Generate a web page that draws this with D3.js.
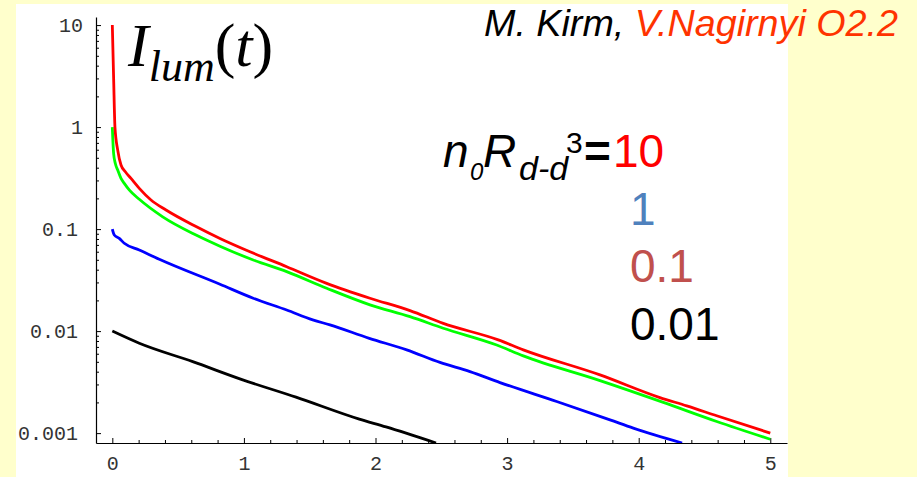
<!DOCTYPE html>
<html>
<head>
<meta charset="utf-8">
<script src="https://cdn.jsdelivr.net/npm/d3@7"></script>
<style>
  html, body { margin: 0; padding: 0; background: #FFFFCC; }
  svg { display: block; }
</style>
</head>
<body>
<svg id="chart" width="917" height="477"></svg>
<script>
// ---- data ----
const yTickValues = [10, 1, 0.1, 0.01, 0.001];
const yTickLabels = ["10", "1", "0.1", "0.01", "0.001"];
const xTickValues = [0, 1, 2, 3, 4, 5];
const xTickLabels = ["0", "1", "2", "3", "4", "5"];

const legendLabels = ["10", "1", "0.1", "0.01"];

// n0 R^3 = 10 (red)
const redT = [0, 0.01, 0.02, 0.041, 0.066, 0.099, 0.142, 0.205, 0.294, 0.408, 0.636, 0.818, 1.046, 1.325, 1.629, 1.958, 2.262, 2.515, 2.933, 3.123, 3.706, 4.161, 4.365, 4.593, 5.0];
const redV = [10, 3.0, 1.0, 0.595, 0.425, 0.365, 0.314, 0.251, 0.193, 0.154, 0.106, 0.081, 0.060, 0.0428, 0.0294, 0.021, 0.0159, 0.0119, 0.0082, 0.00655, 0.00372, 0.00223, 0.00185, 0.00148, 0.001];
// n0 R^3 = 1 (green)
const greenT = [0, 0.004, 0.01, 0.023, 0.041, 0.066, 0.091, 0.13, 0.205, 0.383, 0.636, 0.818, 1.071, 1.325, 1.629, 1.958, 2.262, 2.515, 2.921, 3.123, 3.706, 4.187, 4.593, 5.0];
const greenV = [1.0, 0.75, 0.55, 0.44, 0.379, 0.314, 0.281, 0.241, 0.196, 0.132, 0.0875, 0.068, 0.0498, 0.0383, 0.0263, 0.0181, 0.01387, 0.01067, 0.0073, 0.00571, 0.00327, 0.002, 0.0013, 0.00087];
// n0 R^3 = 0.1 (blue)
const blueT = [0, 0.015, 0.053, 0.091, 0.205, 0.357, 0.818, 1.071, 1.325, 1.523, 1.654, 1.953, 2.237, 2.49, 2.718, 2.946, 3.377, 3.782, 3.959, 4.33];
const blueV = [0.1, 0.0875, 0.081, 0.0726, 0.0624, 0.0506, 0.0288, 0.021, 0.0161, 0.0129, 0.0115, 0.0085, 0.00655, 0.00493, 0.00401, 0.00313, 0.00204, 0.00135, 0.00112, 0.0008];
// n0 R^3 = 0.01 (black)
const blackT = [0, 0.205, 0.611, 0.991, 1.396, 1.877, 2.08, 2.46];
const blackV = [0.01, 0.0076, 0.00502, 0.00333, 0.00225, 0.00137, 0.00115, 0.0008];

// ---- drawing ----
const svg = d3.select("#chart");
const W = 917, H = 477;

svg.append("rect").attr("width", W).attr("height", H).attr("fill", "#FFFFCC");
svg.append("rect").attr("x", 16).attr("y", 4).attr("width", 772).attr("height", 473).attr("fill", "#FFFFFF");

const plot = { left: 96, right: 787, top: 17, bottom: 443 };

const x = d3.scaleLinear().domain([-0.124, 5.127]).range([plot.left, plot.right]);
const y = d3.scaleLog().domain([0.0008, 12]).range([plot.bottom, plot.top]);

svg.append("clipPath").attr("id", "clip")
  .append("rect")
  .attr("x", plot.left).attr("y", plot.top)
  .attr("width", plot.right - plot.left).attr("height", plot.bottom - plot.top);

// minor ticks
const yMinor = [];
[0.001, 0.01, 0.1, 1].forEach(dec => { for (let k = 2; k <= 9; k++) yMinor.push(dec * k); });
const xMinor = [];
for (let i = 0; i <= 25; i++) { if (i % 5 !== 0) xMinor.push(i / 5); }

const tickFont = "'Liberation Mono', 'DejaVu Sans Mono', monospace";

// Y axis
const yAxisMinor = d3.axisLeft(y).tickValues(yMinor).tickSizeInner(-3).tickSizeOuter(0).tickFormat("");
const gyMinor = svg.append("g").attr("transform", `translate(${plot.left},0)`).call(yAxisMinor);
gyMinor.select(".domain").remove();

const yAxis = d3.axisLeft(y).tickValues(yTickValues).tickSizeInner(-5).tickSizeOuter(0)
  .tickPadding(18).tickFormat((d, i) => yTickLabels[i]);
const gy = svg.append("g").attr("transform", `translate(${plot.left},0)`).call(yAxis);
gy.selectAll("text")
  .attr("font-family", tickFont).attr("font-size", 20).attr("fill", "#333")
  .attr("dx", (d, i) => yTickLabels[i].indexOf(".") < 0 ? 5 : 0);

// X axis
const xAxisMinor = d3.axisBottom(x).tickValues(xMinor).tickSizeInner(-3).tickSizeOuter(0).tickFormat("");
const gxMinor = svg.append("g").attr("transform", `translate(0,${plot.bottom})`).call(xAxisMinor);
gxMinor.select(".domain").remove();

const xAxis = d3.axisBottom(x).tickValues(xTickValues).tickSizeInner(-5).tickSizeOuter(0)
  .tickPadding(13).tickFormat((d, i) => xTickLabels[i]);
const gx = svg.append("g").attr("transform", `translate(0,${plot.bottom})`).call(xAxis);
gx.selectAll("text").attr("font-family", tickFont).attr("font-size", 20).attr("fill", "#333");

svg.selectAll(".domain").attr("stroke", "#000").attr("stroke-width", 1.2);
svg.selectAll(".tick line").attr("stroke", "#000").attr("stroke-width", 1);

// curves
const line = d3.line().x(d => x(d[0])).y(d => y(d[1])).curve(d3.curveMonotoneX);
const series = [
  { t: greenT, v: greenV, color: "#00FF00" },
  { t: redT, v: redV, color: "#FF0000" },
  { t: blueT, v: blueV, color: "#0000FF" },
  { t: blackT, v: blackV, color: "#000000" }
];
const gc = svg.append("g").attr("clip-path", "url(#clip)");
series.forEach(s => {
  gc.append("path")
    .datum(s.t.map((t, i) => [t, s.v[i]]))
    .attr("d", line)
    .attr("fill", "none")
    .attr("stroke", s.color)
    .attr("stroke-width", 2.8)
    .attr("stroke-linejoin", "round");
});

// title I_lum(t)
const title = svg.append("text").attr("font-family", "'Liberation Serif', 'Times New Roman', serif")
  .attr("font-size", 62).attr("y", 66).attr("fill", "#000");
title.append("tspan").attr("x", 128).attr("font-style", "italic").text("I");
title.append("tspan").attr("font-style", "italic").attr("font-size", 44).attr("dy", 15).text("lum");
title.append("tspan").attr("dy", -15).text("(");
title.append("tspan").attr("font-style", "italic").text("t");
title.append("tspan").text(")");

// authors
const auth = svg.append("text").attr("font-family", "'Liberation Sans', Arial, sans-serif")
  .attr("font-style", "italic").attr("font-size", 37.7).attr("x", 484).attr("y", 36);
auth.append("tspan").attr("fill", "#000").text("M. Kirm, ");
auth.append("tspan").attr("fill", "#FF3300").text("V.Nagirnyi O2.2");

// legend formula
const sans = "'Liberation Sans', Arial, sans-serif";
const f = svg.append("text").attr("font-family", sans).attr("font-size", 46).attr("y", 167).attr("fill", "#000");
f.append("tspan").attr("x", 443).attr("font-style", "italic").text("n");
f.append("tspan").attr("x", 470).attr("y", 180).attr("font-style", "italic").attr("font-size", 24).text("0");
f.append("tspan").attr("x", 483).attr("y", 167).attr("font-style", "italic").text("R");
f.append("tspan").attr("x", 519).attr("y", 180).attr("font-style", "italic").attr("font-size", 34).text("d-d");
f.append("tspan").attr("x", 566).attr("y", 153).attr("font-size", 30).text("3");
f.append("tspan").attr("x", 584).attr("y", 167).attr("font-weight", "bold").text("=");
f.append("tspan").attr("x", 613).attr("y", 167).attr("fill", "#FF0000").text(legendLabels[0]);

const legendColors = ["#FF0000", "#4F81BD", "#C0504D", "#000000"];
const legendY = [167, 225, 282, 340];
for (let i = 1; i < legendLabels.length; i++) {
  svg.append("text").attr("font-family", sans).attr("font-size", 46)
    .attr("x", 630).attr("y", legendY[i]).attr("fill", legendColors[i]).text(legendLabels[i]);
}
</script>
</body>
</html>
